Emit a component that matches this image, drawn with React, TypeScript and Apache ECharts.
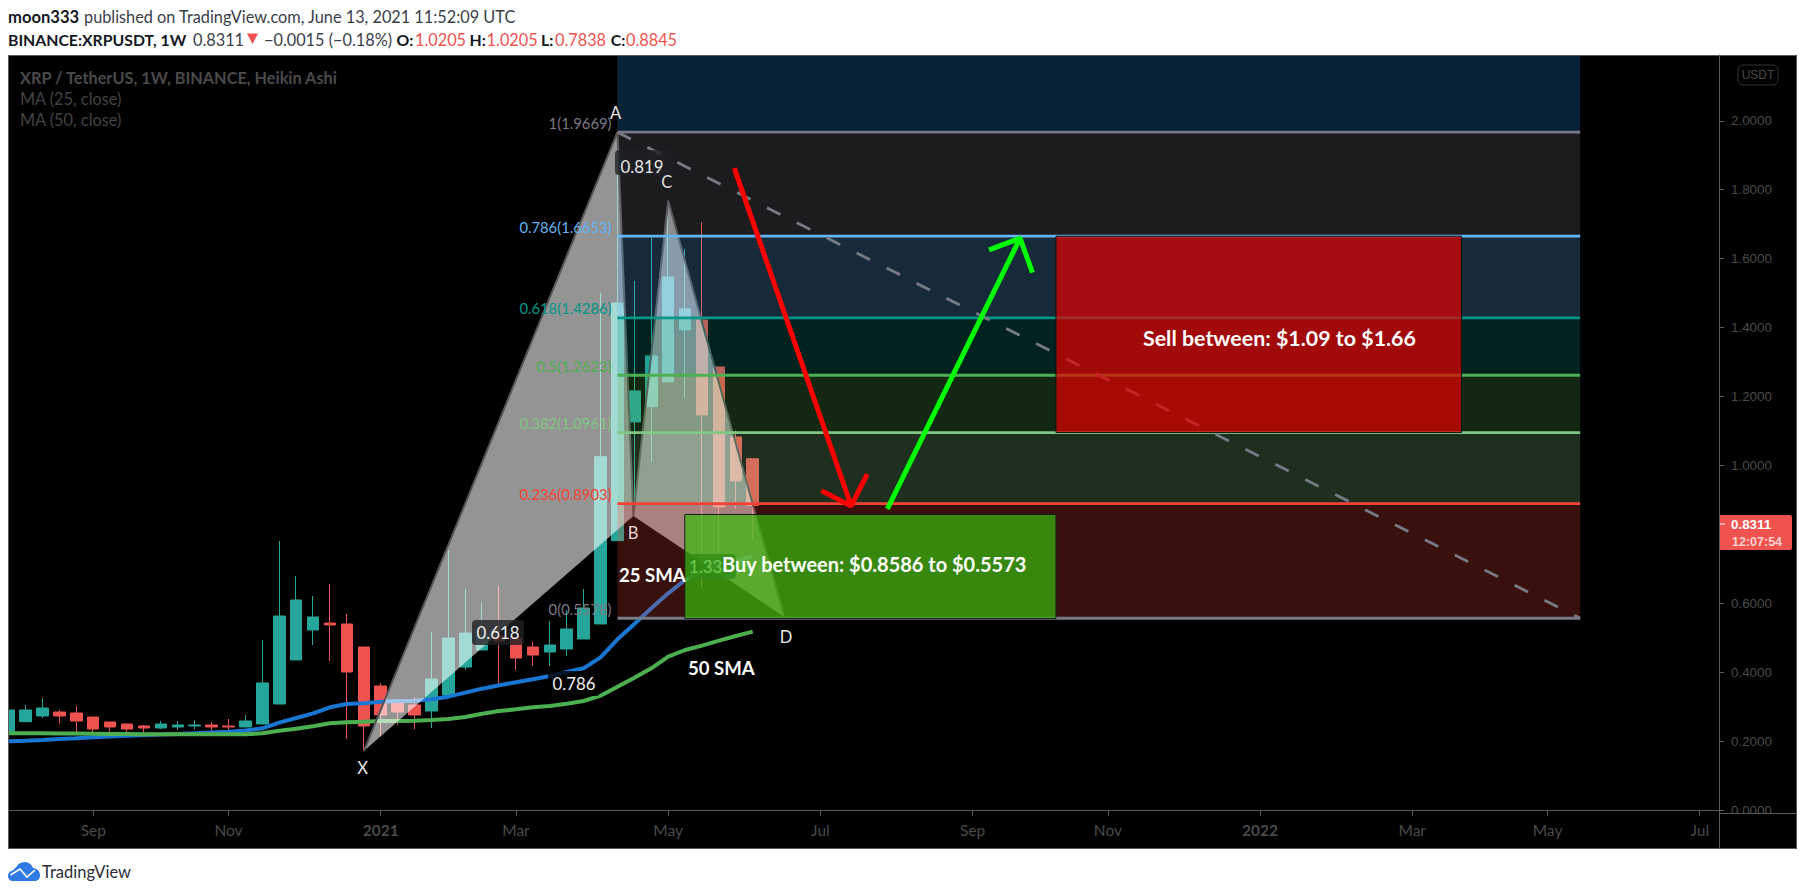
import React, { useEffect, useRef } from "react";
import * as echarts from "echarts";

// weekly index (0 = Aug 3 2020); [open, close, low, high]
const candles: number[][] = [
  [0.2271, 0.2919, 0.2271, 0.2919], [0.258, 0.2919, 0.258, 0.3064], [0.2745, 0.2977, 0.2687, 0.3257],
  [0.2861, 0.2745, 0.2522, 0.2919], [0.2832, 0.26, 0.2252, 0.3035], [0.2716, 0.2368, 0.2242, 0.2716],
  [0.2571, 0.2426, 0.229, 0.2571], [0.2513, 0.2368, 0.2175, 0.2513], [0.2455, 0.2397, 0.2262, 0.2484],
  [0.2397, 0.2513, 0.2368, 0.26], [0.2426, 0.2484, 0.2339, 0.26], [0.2455, 0.2484, 0.2358, 0.2629],
  [0.2484, 0.2426, 0.229, 0.2571], [0.2455, 0.2426, 0.2252, 0.2658], [0.2426, 0.26, 0.2426, 0.2774],
  [0.2513, 0.3702, 0.2513, 0.4948], [0.3093, 0.5644, 0.3093, 0.7819], [0.4368, 0.6108, 0.4368, 0.6804],
  [0.5238, 0.5615, 0.4803, 0.6224], [0.5441, 0.5383, 0.4339, 0.6572], [0.5412, 0.402, 0.2078, 0.5702],
  [0.4745, 0.2455, 0.173, 0.4745], [0.3615, 0.2774, 0.2146, 0.3702], [0.3209, 0.2861, 0.2493, 0.3209],
  [0.3064, 0.2774, 0.2368, 0.3296], [0.289, 0.3818, 0.2397, 0.518], [0.3354, 0.5006, 0.3354, 0.7558],
  [0.4165, 0.5151, 0.4078, 0.6427], [0.4658, 0.5093, 0.4658, 0.605], [0.5064, 0.4919, 0.3644, 0.6514],
  [0.5006, 0.4426, 0.4078, 0.5006], [0.4745, 0.4513, 0.4194, 0.489], [0.46, 0.4803, 0.4194, 0.5499],
  [0.4687, 0.5267, 0.4484, 0.5818], [0.4977, 0.5876, 0.4977, 0.6427], [0.5413, 1.0263, 0.5413, 1.501],
  [0.7828, 1.472, 0.7828, 1.9669], [1.1269, 1.2168, 0.8863, 1.5358], [1.1713, 1.3183, 1.0118, 1.6604],
  [1.2429, 1.5474, 1.2429, 1.7677], [1.3937, 1.4546, 1.1965, 1.6285], [1.4227, 1.1472, 0.6456, 1.7068],
  [1.2864, 0.8805, 0.75, 1.2864], [1.0834, 0.9559, 0.8747, 1.1017], [1.0205, 0.8845, 0.7838, 1.0205],
];
const sma25 = [
  0.201, 0.2025, 0.2049, 0.2075, 0.21, 0.2126, 0.215, 0.2172, 0.2194, 0.2208, 0.2223, 0.2245, 0.2268, 0.229, 0.2325,
  0.2387, 0.2551, 0.2687, 0.2822, 0.2996, 0.3093, 0.3112, 0.316, 0.318, 0.3189, 0.3228, 0.3305, 0.3421, 0.3537, 0.3634,
  0.3721, 0.3808, 0.3904, 0.402, 0.4127, 0.4446, 0.4968, 0.5412, 0.5866, 0.6301, 0.6688, 0.6958, 0.7103, 0.7239, 0.7364,
];
const sma50 = [
  0.2242, 0.2242, 0.2242, 0.224, 0.2235, 0.223, 0.2225, 0.222, 0.2213, 0.2213, 0.2213, 0.2213, 0.2213, 0.2213, 0.2213,
  0.2242, 0.232, 0.2378, 0.2445, 0.2532, 0.2561, 0.258, 0.26, 0.26, 0.2609, 0.2629, 0.2658, 0.2716, 0.2812, 0.289,
  0.2938, 0.2996, 0.3035, 0.3102, 0.318, 0.3334, 0.3595, 0.3856, 0.4127, 0.4465, 0.4658, 0.4784, 0.4929, 0.5064, 0.519,
];
const fibLevels = [1.9669, 1.6653, 1.4286, 1.2623, 1.0961, 0.8903, 0.5578];
const fibNames = ["1", "0.786", "0.618", "0.5", "0.382", "0.236", "0"];
const fibColors = ["#787b86", "#64b5f6", "#009688", "#4caf50", "#81c784", "#f44336", "#787b86"];
const fibFills = ["#787b86", "#64b5f6", "#009688", "#4caf50", "#81c784", "#f44336"];
const fibStart = 36;
const fibEnd = 92.93;
const yMin = -0.0067;
const yMax = 2.1906;
const xMin = 0.018;
const xMax = 101.14;
const xTickIdx = [5, 13, 22, 30, 39, 48, 57, 65, 74, 83, 91, 100];
const xTickText = ["Sep", "Nov", "2021", "Mar", "May", "Jul", "Sep", "Nov", "2022", "Mar", "May", "Jul"];
const yTicks = [0, 0.2, 0.4, 0.6, 0.8, 1, 1.2, 1.4, 1.6, 1.8, 2];
const yLabels = [0, 0.2, 0.4, 0.6, 1, 1.2, 1.4, 1.6, 1.8, 2];
const patternXAB = [[21, 0.173], [36, 1.9669], [36.94, 0.8544]];
const patternBCD = [[36.94, 0.8544], [39, 1.7677], [45.85, 0.5625]];
const patternPath = [[21, 0.173], [36, 1.9669], [36.94, 0.8544], [39, 1.7677], [45.85, 0.5625]];
const trendLine = [[36, 1.9669], [92.93, 0.5578]];
const buyBox = [[39.98, 0.8586], [61.93, 0.5573]];
const sellBox = [[61.93, 1.6653], [85.91, 1.0961]];
const redArrow = [[42.91, 1.8625], [49.82, 0.8834]];
const redHead = [[48.05, 0.9278], [49.82, 0.8834], [50.77, 0.9753]];
const greenArrow = [[51.96, 0.8747], [59.81, 1.6596]];
const greenHead = [[57.97, 1.6256], [59.81, 1.6596], [60.54, 1.5598]];

const SANS = "Lato";
const AXIS_FONT = "'Liberation Sans'";
const HEAD = `16.3px ${SANS}`;
const HEADB = `bold 15.8px ${SANS}`;

function poly(points: number[][], style: any, z: number) {
  return {
    type: "custom", coordinateSystem: "cartesian2d", silent: true, z, clip: true,
    data: [points[0]],
    renderItem: (_p: any, api: any) => ({
      type: "polygon",
      shape: { points: points.map((q) => api.coord(q)) },
      style,
    }),
  };
}
function rectOf(box: number[][]) {
  const [a, b] = box;
  return [[a[0], a[1]], [b[0], a[1]], [b[0], b[1]], [a[0], b[1]]];
}
function line(data: number[][], color: string, width: number, z: number, dash?: number[]) {
  return {
    type: "line", data, z, silent: true, showSymbol: false, symbol: "none",
    lineStyle: { color, width, type: dash || "solid", cap: "butt" },
  };
}
function txt(text: string, x: number, y: number, fill: string, font: string, z = 20, align = "left") {
  return { type: "text", z, silent: true, style: { text, x, y, fill, font, align, verticalAlign: "middle" } };
}

const logoPath =
  "M4.5 19C1.5 19 0 16.5 0 13.5C0 11 2 9 4.5 8.5C6 8 7 6 9 4C11 1 14 0 17 0C21 0 24 3 25 6C28.5 6 32 9 32 13C32 16.5 30 19 27 19Z";
echarts.graphic.registerShape("tvcloud", echarts.graphic.extendPath(logoPath as any, {}) as any);

export default function App() {
  const ref = useRef<HTMLDivElement>(null);
  useEffect(() => {
    const chart = echarts.init(ref.current!, undefined, { renderer: "svg" });
    const zoneSeries = fibFills.map((c, i) =>
      poly(rectOf([[fibStart, fibLevels[i]], [fibEnd, fibLevels[i + 1]]]), { fill: c, opacity: 0.23 }, 6)
    );
    const lineSeries = fibLevels.map((v, i) => line([[fibStart, v], [fibEnd, v]], fibColors[i], 2.8, 7));
    const labelFont = `14.8px ${SANS}`;
    const fibTexts = fibLevels.map((v, i) =>
      txt(`${fibNames[i]}(${v.toFixed(4)})`, 611.5, 810.68 - v * 344.9 - 9.5, fibColors[i], labelFont, 9, "right")
    );
    const ratioBox = (x: number, y: number, w: number, h: number, z = 9) => ({
      type: "rect", z, silent: true, shape: { x, y, width: w, height: h, r: 4 },
      style: { fill: "rgba(30,32,36,0.8)" },
    });
    chart.setOption({
      animation: false,
      backgroundColor: "#ffffff",
      grid: { left: 9, right: 1805 - 1719, top: 55, bottom: 895 - 813, containLabel: false },
      xAxis: {
        type: "value", min: xMin, max: xMax, splitLine: { show: false },
        axisLine: { show: true, lineStyle: { color: "#5a5a5a" } },
        axisTick: { show: true, length: 5, lineStyle: { color: "#5a5a5a" }, customValues: xTickIdx },
        axisLabel: {
          color: "#4a4a4a", fontFamily: SANS, fontSize: 15.5, margin: 9, customValues: xTickIdx,
          formatter: (v: number) => {
            const t = xTickText[xTickIdx.indexOf(v)] || "";
            return t.length === 4 ? `{b|${t}}` : t;
          },
          rich: { b: { color: "#4a4a4a", fontFamily: SANS, fontSize: 15.5, fontWeight: "bold" } },
        },
      },
      yAxis: {
        type: "value", position: "right", min: yMin, max: yMax, splitLine: { show: false },
        axisLine: { show: true, onZero: false, lineStyle: { color: "#5a5a5a" } },
        axisTick: { show: true, length: 5, lineStyle: { color: "#5a5a5a" }, customValues: yTicks },
        axisLabel: {
          color: "#4a4a4a", fontFamily: AXIS_FONT, fontSize: 13.4, margin: 12,
          customValues: yLabels,
          formatter: (v: number) => v.toFixed(4),
        },
      },
      graphic: [
        { type: "rect", z: -10, silent: true, shape: { x: 8, y: 55, width: 1789, height: 794 }, style: { fill: "#000" } },
        { type: "rect", z: 30, silent: true, shape: { x: 0, y: 55, width: 8.5, height: 794 }, style: { fill: "#fff" } },
        { type: "rect", z: 30, silent: true, shape: { x: 1720, y: 814, width: 76, height: 34 }, style: { fill: "#000" } },
        { type: "rect", z: 31, silent: true, shape: { x: 8.5, y: 55.5, width: 1788, height: 793 }, style: { fill: "none", stroke: "#5a5a5a", lineWidth: 1 } },
        { type: "line", z: 31, silent: true, shape: { x1: 1719, y1: 813.5, x2: 1797, y2: 813.5 }, style: { stroke: "#5a5a5a", lineWidth: 1 } },
        { type: "line", z: 31, silent: true, shape: { x1: 1719.5, y1: 813, x2: 1719.5, y2: 848 }, style: { stroke: "#5a5a5a", lineWidth: 1 } },
        // header
        txt("moon333", 8, 16.7, "#131722", `bold 16.6px ${SANS}`),
        txt("published on TradingView.com, June 13, 2021 11:52:09 UTC", 84, 16.7, "#3a3e49", HEAD),
        txt("BINANCE:XRPUSDT, 1W", 8, 39, "#131722", HEADB),
        txt("0.8311", 193, 39, "#3a3e49", HEAD),
        { type: "polygon", silent: true, z: 20, shape: { points: [[247, 33.5], [258, 33.5], [252.5, 44]] }, style: { fill: "#ef5350" } },
        txt("−0.0015 (−0.18%)", 264, 39, "#3a3e49", HEAD),
        txt("O:", 396.4, 39, "#131722", HEADB),
        txt("1.0205", 415, 39, "#ef5350", HEAD),
        txt("H:", 469.6, 39, "#131722", HEADB),
        txt("1.0205", 486.6, 39, "#ef5350", HEAD),
        txt("L:", 541, 39, "#131722", HEADB),
        txt("0.7838", 555, 39, "#ef5350", HEAD),
        txt("C:", 610.7, 39, "#131722", HEADB),
        txt("0.8845", 626, 39, "#ef5350", HEAD),
        // overlay legend
        txt("XRP / TetherUS, 1W, BINANCE, Heikin Ashi", 20, 77, "#4a4a4a", `bold 16.3px ${SANS}`),
        txt("MA (25, close)", 20, 98, "#434343", HEAD),
        txt("MA (50, close)", 20, 119, "#434343", HEAD),
        // fib labels
        ...fibTexts,
        // pattern points
        txt("A", 615.7, 112.7, "#e8e8e8", `16.5px ${SANS}`, 20, "center"),
        txt("C", 666.7, 181.7, "#dcdcdc", `16.5px ${SANS}`, 20, "center"),
        txt("B", 633, 532.7, "#f0d8d8", `16.5px ${SANS}`, 20, "center"),
        txt("X", 362.7, 768, "#e8e8e8", `16.5px ${SANS}`, 20, "center"),
        txt("D", 786, 636.7, "#e8e8e8", `16.5px ${SANS}`, 20, "center"),
        // ratios
        ratioBox(615, 150, 58, 25),
        txt("0.819", 642, 166, "#e8e8e8", `16.8px ${SANS}`, 10, "center"),
        ratioBox(472, 620, 52, 25),
        txt("0.618", 498, 632, "#f0f0f0", `16.8px ${SANS}`, 10, "center"),
        { ...ratioBox(548, 671, 52, 25), style: { fill: "rgba(0,0,0,0.8)" } },
        txt("0.786", 574, 683.5, "#f0f0f0", `16.8px ${SANS}`, 10, "center"),
        ratioBox(686, 554, 50, 25),
        txt("1.33", 689, 566, "#e8e8e8", `16.8px ${SANS}`, 10),
        // notes
        txt("25 SMA", 619, 575, "#ffffff", `bold 18.6px ${SANS}`),
        txt("50 SMA", 688, 668, "#ffffff", `bold 18.6px ${SANS}`),
        txt("Buy between: $0.8586 to $0.5573", 722, 564, "#ffffff", `bold 20px ${SANS}`, 22),
        txt("Sell between: $1.09 to $1.66", 1143, 338, "#ffffff", `bold 21.4px ${SANS}`, 22),
        // price scale
        { type: "rect", z: 32, silent: true, shape: { x: 1738, y: 65, width: 40, height: 20, r: 5 }, style: { fill: "#000", stroke: "#333", lineWidth: 1 } },
        txt("USDT", 1758, 75, "#4a4a4a", `12px ${AXIS_FONT}`, 33, "center"),
        { type: "rect", z: 32, silent: true, shape: { x: 1720, y: 515, width: 72, height: 35, r: [0, 2, 2, 0] }, style: { fill: "#ef5350" } },
        { type: "line", z: 33, silent: true, shape: { x1: 1720, y1: 524, x2: 1725, y2: 524 }, style: { stroke: "#fff", lineWidth: 1 } },
        txt("0.8311", 1731, 524.5, "#ffffff", `bold 13.4px ${AXIS_FONT}`, 33),
        txt("12:07:54", 1732, 541.5, "#ffd0ce", `bold 12.5px ${AXIS_FONT}`, 33),
        // footer
        { type: "tvcloud", x: 8, y: 862, z: 20, silent: true, style: { fill: "#2f7ae5" } },
        { type: "polyline", z: 21, silent: true, shape: { points: [[10.5, 875], [20, 869], [27, 877], [35, 870]] }, style: { fill: "none", stroke: "#fff", lineWidth: 1.6 } },
        txt("TradingView", 42, 871.5, "#2a2e39", `16.5px ${SANS}`),
      ],
      series: [
        {
          type: "candlestick", z: 2, silent: true, barWidth: 12,
          encode: { x: 0, y: [1, 2, 3, 4] },
          itemStyle: { color: "#26a69a", color0: "#ef5350", borderColor: "#26a69a", borderColor0: "#ef5350", borderWidth: 1 },
          data: candles.map((c, i) => [i, ...c]),
        },
        line(sma25.map((v, i) => [i, v]), "#1976d2", 4, 3),
        line(sma50.map((v, i) => [i, v]), "#4caf50", 4, 3),
        poly(patternXAB, { fill: "rgba(255,255,255,0.58)" }, 5),
        poly(patternBCD, { fill: "rgba(255,255,255,0.58)" }, 5),
        line(patternPath, "#555555", 2, 5),
        poly(
          [[fibStart, yMax], [fibEnd, yMax], [fibEnd, fibLevels[0]], [fibStart, fibLevels[0]]],
          { fill: "#2196f3", opacity: 0.23 }, 6
        ),
        ...zoneSeries,
        ...lineSeries,
        line(trendLine, "#787b86", 2.8, 7, [15, 18.5]),
        poly(rectOf(buyBox), { fill: "rgba(57,188,16,0.7)", stroke: "#1b1b1b", lineWidth: 1 }, 12),
        poly(rectOf(sellBox), { fill: "rgba(230,0,0,0.7)", stroke: "#111", lineWidth: 1 }, 12),
        line(redArrow, "#ff0000", 5, 14),
        line(redHead, "#ff0000", 5, 14),
        line(greenArrow, "#00ff00", 5, 14),
        line(greenHead, "#00ff00", 5, 14),
      ],
    });
    return () => chart.dispose();
  }, []);
  return <div ref={ref} style={{ position: "absolute", left: 0, top: 0, width: 1805, height: 895 }} />;
}
